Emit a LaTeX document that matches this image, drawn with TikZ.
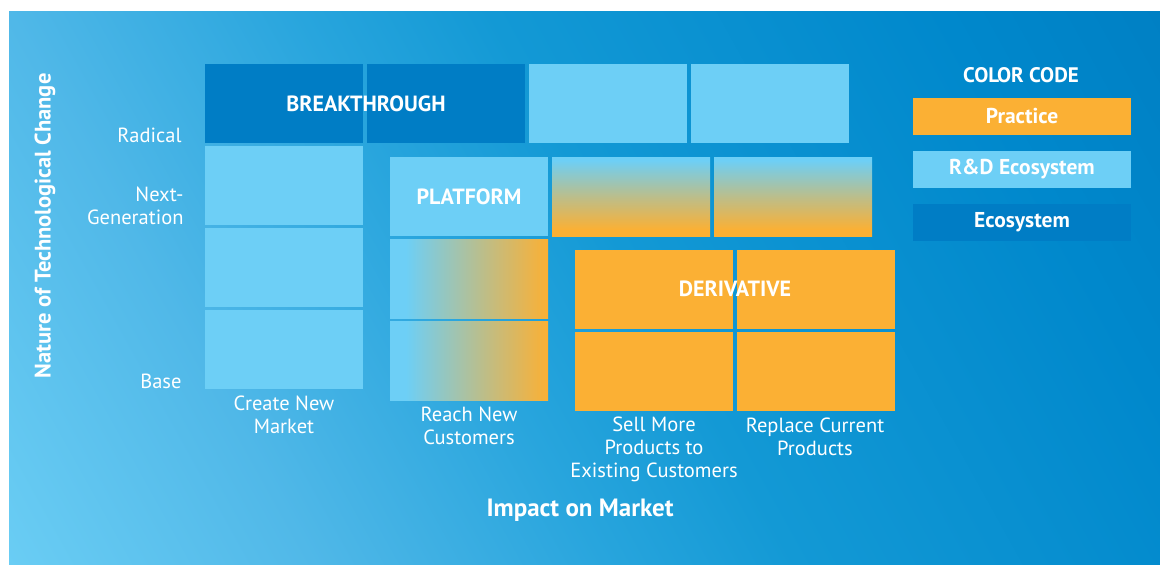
\documentclass[tikz,border=0pt]{standalone}
\usepackage{fontspec}
\setmainfont{PT Sans}
\definecolor{bgdeep}{HTML}{0080C4}
\definecolor{bglight}{HTML}{6ACDF4}
\definecolor{ecoblue}{HTML}{007DC5}
\definecolor{rdblue}{HTML}{6DCFF6}
\definecolor{practice}{HTML}{FBB034}
\definecolor{bgA}{HTML}{50B8E8}
\definecolor{bgB}{HTML}{28A5DD}
\definecolor{bgC}{HTML}{1399D5}
\definecolor{bgD}{HTML}{0088CC}
\pgfdeclarehorizontalshading{bgshade}{100bp}{color(0bp)=(bglight); color(25bp)=(bglight); color(35.5bp)=(bgA); color(45.5bp)=(bgB); color(52bp)=(bgC); color(67.5bp)=(bgD); color(75bp)=(bgdeep); color(100bp)=(bgdeep)}
\pgfdeclarehorizontalshading{reachshade}{100bp}{color(0bp)=(rdblue); color(30bp)=(rdblue); color(54bp)=(rdblue!45!practice); color(75bp)=(practice); color(100bp)=(practice)}
\pgfdeclareverticalshading{nextshade}{100bp}{color(0bp)=(practice); color(29bp)=(practice); color(50bp)=(rdblue!45!practice); color(73bp)=(rdblue); color(100bp)=(rdblue)}
\tikzset{
  cell/.style={minimum width=158pt, minimum height=79pt, inner sep=0pt},
  legendbox/.style={minimum width=218pt, minimum height=37pt, inner sep=0pt,
    text=white, font=\fontsize{21.5}{23}\selectfont\bfseries},
  axislabel/.style={text=white, font=\fontsize{20.5}{23}\selectfont},
  boxtitle/.style={text=white, font=\fontsize{22}{24}\selectfont\bfseries}
}
\begin{document}
\begin{tikzpicture}[x=1pt, y=-1pt]
    \useasboundingbox (0,0) rectangle (1160,565);
    % Background
    \begin{scope}
    \clip (9,11) rectangle (1160,565);
    \begin{scope}[transform canvas={rotate around={29:(584.5,288)}}]
    \shade[shading=bgshade] (-53.5,-242) rectangle (1222.5,818);
    \end{scope}
    \end{scope}

    % Breakthrough row
    \node[cell, fill=ecoblue] (br1) at (284,103.5) {};
    \node[cell, fill=ecoblue] (br2) at (446,103.5) {};
    \node[cell, fill=rdblue] (br3) at (608,103.5) {};
    \node[cell, fill=rdblue] (br4) at (770,103.5) {};
    \node[boxtitle] (breakthrough) at (366,104) {BREAKTHROUGH};

    % Create New Market column
    \foreach \y/\name in {185.5/cn1, 267.5/cn2, 349.5/cn3} {
        \node[cell, fill=rdblue] (\name) at (284,\y) {};
    }

    % Platform row
    \node[cell, fill=rdblue, boxtitle] (platform) at (469,196.5) {PLATFORM};
    \foreach \x/\name in {631/pf2, 793/pf3} {
        \node[cell, shading=nextshade] (\name) at (\x,196.5) {};
    }

    % Reach New Customers column
    \foreach \y/\name in {278.5/rn1, 360.5/rn2} {
        \node[cell, shading=reachshade] (\name) at (469,\y) {};
    }

    % Derivative block
    \foreach \x/\y/\name in {654/289.5/dv1, 816/289.5/dv2, 654/371.5/dv3, 816/371.5/dv4} {
        \node[cell, fill=practice] (\name) at (\x,\y) {};
    }
    \node[boxtitle] (derivative) at (735,289) {DERIVATIVE};

    % Axis labels
    \node[axislabel, anchor=east] (radical) at (185,135) {Radical};
    \node[axislabel, anchor=east, align=right] (nextgen) at (187,206) {Next-\\Generation};
    \node[axislabel, anchor=east] (base) at (185,381) {Base};
    \node[axislabel, align=center] (createnew) at (284,415) {Create New\\Market};
    \node[axislabel, align=center] (reachnew) at (469,426) {Reach New\\Customers};
    \node[axislabel, align=center] (sellmore) at (654,449) {Sell More\\Products to\\Existing Customers};
    \node[axislabel, align=center] (replace) at (815,437) {Replace Current\\Products};
    \node[boxtitle, font=\fontsize{25}{27}\selectfont\bfseries] (impact) at (580,510) {Impact on Market};
    \node[boxtitle, font=\fontsize{22.5}{25}\selectfont\bfseries, rotate=90] (nature) at (45,226) {Nature of Technological Change};

    % Color code
    \node[boxtitle, font=\fontsize{21}{23}\selectfont\bfseries] (colorcode) at (1021,75) {COLOR CODE};
    \node[legendbox, fill=practice] (practicekey) at (1022,116.5) {Practice};
    \node[legendbox, fill=rdblue] (rdkey) at (1022,169.5) {R\&D Ecosystem};
    \node[legendbox, fill=ecoblue] (ecokey) at (1022,222.5) {Ecosystem};
\end{tikzpicture}
\end{document}
